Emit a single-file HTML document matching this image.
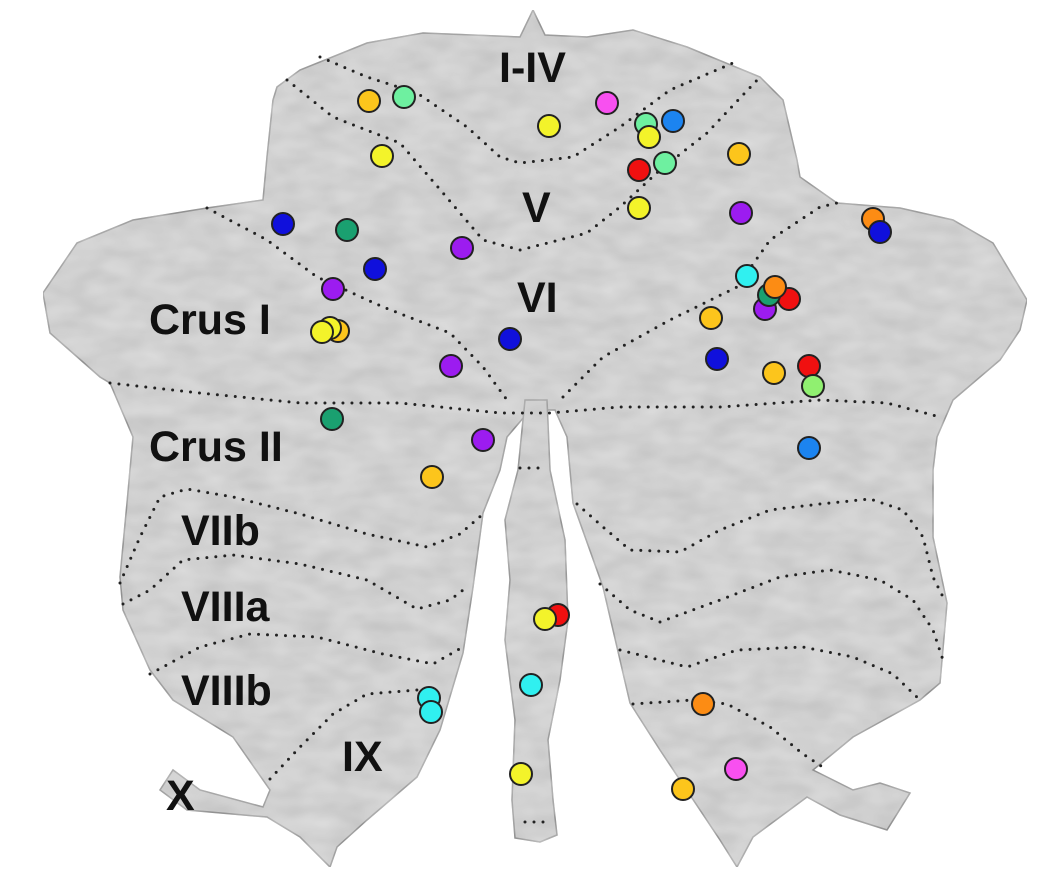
<!DOCTYPE html>
<html><head><meta charset="utf-8"><style>
html,body{margin:0;padding:0;background:#fff;width:1040px;height:874px;overflow:hidden}
svg{display:block}
text{font-family:"Liberation Sans",Arial,sans-serif;font-weight:bold;font-size:43px;fill:#111}
.d{fill:none;stroke:#222;stroke-width:3;stroke-dasharray:0 9;stroke-linecap:round;stroke-linejoin:round}
circle{stroke:#222;stroke-width:2}
</style></head><body>
<svg width="1040" height="874" viewBox="0 0 1040 874">
<defs>
<filter id="tx" x="0" y="0" width="100%" height="100%">
<feTurbulence type="fractalNoise" baseFrequency="0.03 0.06" numOctaves="2" seed="3" result="n"/>
<feColorMatrix in="n" type="matrix" values="0 0 0 0 0.85  0 0 0 0 0.85  0 0 0 0 0.85  0 0 0 0.6 0" result="c"/>
<feComposite in="c" in2="SourceGraphic" operator="in" result="m"/>
<feMerge><feMergeNode in="SourceGraphic"/><feMergeNode in="m"/></feMerge>
</filter>
</defs>
<g filter="url(#tx)" fill="#c2c2c2" stroke="#7a7a7a" stroke-width="1.5">
<path d="M277,87 L300,70 L367,43 L423,33 L520,37 L533,10 L545,35 L587,37 L633,30 L687,47 L760,77 L783,100 L797,160 L800,177 L837,203 L900,208 L953,220 L993,243 L1027,300 L1020,330 L1000,360 L953,400 L937,437 L933,470 L933,537 L947,603 L940,683 L920,700 L853,737 L813,770 L853,790 L880,783 L910,793 L887,830 L840,815 L807,797 L753,837 L737,867 L720,840 L660,750 L630,703 L603,587 L573,503 L567,437 L555,410 L530,410 L507,437 L500,470 L483,513 L473,587 L463,653 L440,730 L417,777 L367,820 L337,847 L330,867 L300,837 L267,817 L187,810 L160,790 L173,770 L200,790 L263,807 L270,790 L233,737 L173,700 L150,670 L123,610 L120,577 L127,503 L133,437 L110,383 L100,377 L50,333 L43,293 L77,243 L133,220 L207,208 L263,200 L267,157 L273,100 Z"/>
<path d="M525,400 L547,400 L550,470 L565,540 L568,620 L560,680 L548,740 L553,800 L557,835 L540,842 L515,838 L512,800 L515,720 L505,640 L510,580 L505,520 L518,470 Z"/>
</g>
<g class="d">
<polyline points="320,57 367,77 417,93 467,127 500,157 520,163 573,157 620,127 670,90 733,63"/>
<polyline points="287,80 333,117 400,143 443,193 483,240 520,250 587,233 620,207 660,170 707,133 760,77"/>
<polyline points="207,208 267,240 317,277 383,307 450,333 483,367 507,400"/>
<polyline points="563,397 603,357 670,320 737,287 770,240 820,207 837,203"/>
<polyline points="110,383 200,393 300,403 400,403 500,413 550,413 620,407 720,407 820,400 887,403 940,417"/>
<polyline points="120,583 140,537 160,497 187,489 233,497 300,514 367,534 427,547 460,534 483,514"/>
<polyline points="123,604 150,590 183,560 233,555 300,564 367,580 417,609 450,600 467,587"/>
<polyline points="150,674 200,647 250,634 317,637 383,654 433,664 463,647"/>
<polyline points="270,779 300,747 333,714 367,694 417,690"/>
<polyline points="577,504 603,527 630,550 680,552 720,530 770,510 820,504 870,499 903,510 923,537 933,577 943,597"/>
<polyline points="600,584 630,610 660,622 720,600 780,577 830,570 880,580 913,600 933,630 943,660"/>
<polyline points="620,650 687,667 737,650 803,647 853,657 893,674 920,700"/>
<polyline points="633,704 693,700 727,704 770,727 803,754 827,770"/>
<polyline points="520,468 540,468"/>
<polyline points="525,822 550,822"/>
</g>
<text x="499" y="82">I-IV</text>
<text x="522" y="222">V</text>
<text x="517" y="312">VI</text>
<text x="149" y="334">Crus I</text>
<text x="149" y="461">Crus II</text>
<text x="181" y="545">VIIb</text>
<text x="181" y="621">VIIIa</text>
<text x="181" y="705">VIIIb</text>
<text x="342" y="771">IX</text>
<text x="166" y="810">X</text>
<g>
<circle cx="369" cy="101" r="11" fill="#fcc51c"/>
<circle cx="404" cy="97" r="11" fill="#6ef0a0"/>
<circle cx="382" cy="156" r="11" fill="#f3f32a"/>
<circle cx="283" cy="224" r="11" fill="#1010dc"/>
<circle cx="347" cy="230" r="11" fill="#1aa070"/>
<circle cx="462" cy="248" r="11" fill="#9c1cf0"/>
<circle cx="375" cy="269" r="11" fill="#1010dc"/>
<circle cx="333" cy="289" r="11" fill="#9c1cf0"/>
<circle cx="338" cy="331" r="11" fill="#fcc51c"/>
<circle cx="330" cy="328" r="11" fill="#f3f32a"/>
<circle cx="322" cy="332" r="11" fill="#f3f32a"/>
<circle cx="510" cy="339" r="11" fill="#1010dc"/>
<circle cx="451" cy="366" r="11" fill="#9c1cf0"/>
<circle cx="332" cy="419" r="11" fill="#1aa070"/>
<circle cx="607" cy="103" r="11" fill="#f850f0"/>
<circle cx="549" cy="126" r="11" fill="#f3f32a"/>
<circle cx="646" cy="124" r="11" fill="#6ef0a0"/>
<circle cx="673" cy="121" r="11" fill="#1c84f0"/>
<circle cx="649" cy="137" r="11" fill="#f3f32a"/>
<circle cx="665" cy="163" r="11" fill="#6ef0a0"/>
<circle cx="639" cy="170" r="11" fill="#f01010"/>
<circle cx="739" cy="154" r="11" fill="#fcc51c"/>
<circle cx="639" cy="208" r="11" fill="#f3f32a"/>
<circle cx="741" cy="213" r="11" fill="#9c1cf0"/>
<circle cx="873" cy="219" r="11" fill="#fc8c14"/>
<circle cx="880" cy="232" r="11" fill="#1010dc"/>
<circle cx="747" cy="276" r="11" fill="#30f0f0"/>
<circle cx="789" cy="299" r="11" fill="#f01010"/>
<circle cx="765" cy="309" r="11" fill="#9c1cf0"/>
<circle cx="769" cy="295" r="11" fill="#1aa070"/>
<circle cx="775" cy="287" r="11" fill="#fc8c14"/>
<circle cx="711" cy="318" r="11" fill="#fcc51c"/>
<circle cx="717" cy="359" r="11" fill="#1010dc"/>
<circle cx="774" cy="373" r="11" fill="#fcc51c"/>
<circle cx="809" cy="366" r="11" fill="#f01010"/>
<circle cx="813" cy="386" r="11" fill="#90f070"/>
<circle cx="483" cy="440" r="11" fill="#9c1cf0"/>
<circle cx="432" cy="477" r="11" fill="#fcc51c"/>
<circle cx="429" cy="698" r="11" fill="#30f0f0"/>
<circle cx="431" cy="712" r="11" fill="#30f0f0"/>
<circle cx="809" cy="448" r="11" fill="#1c84f0"/>
<circle cx="558" cy="615" r="11" fill="#f01010"/>
<circle cx="545" cy="619" r="11" fill="#f3f32a"/>
<circle cx="531" cy="685" r="11" fill="#30f0f0"/>
<circle cx="521" cy="774" r="11" fill="#f3f32a"/>
<circle cx="703" cy="704" r="11" fill="#fc8c14"/>
<circle cx="736" cy="769" r="11" fill="#f850f0"/>
<circle cx="683" cy="789" r="11" fill="#fcc51c"/>
</g>
</svg>
</body></html>
